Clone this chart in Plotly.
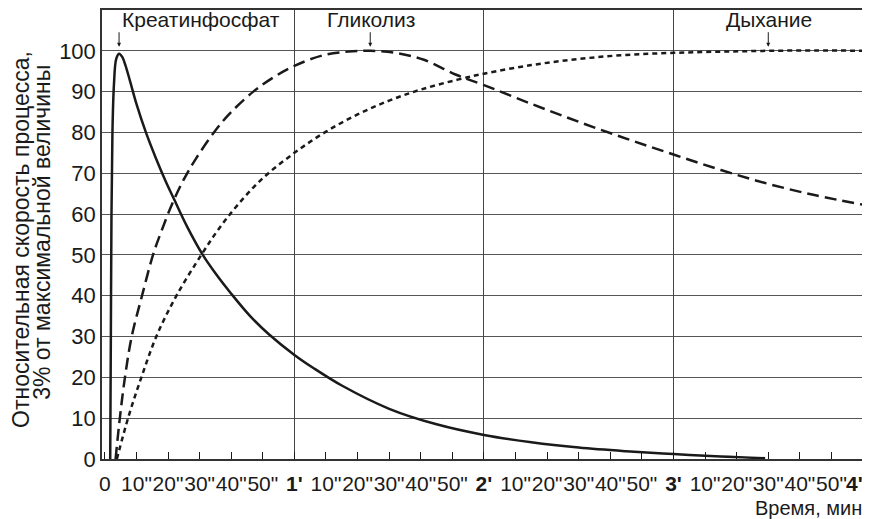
import plotly.graph_objects as go

# time in seconds, value in % of max
t_cp = [1.7, 1.9, 2.1, 2.4, 2.9, 3.6, 4.5, 5.5, 6.5, 8, 10, 13, 16, 19, 22, 26, 31, 35, 40, 46, 52, 60, 66, 75, 90, 105, 120, 135, 150, 165, 180, 195, 209]
y_cp = [0, 30, 60, 80, 92, 98, 99.3, 98.5, 96.5, 92.5, 87, 80, 74, 68.5, 63.5, 57, 50, 45.5, 40.5, 35, 30.5, 25.5, 22.3, 18, 12.3, 8.5, 5.9, 4.1, 2.8, 1.9, 1.2, 0.6, 0.2]

t_gl = [3.4, 4.8, 6.4, 8.5, 11.7, 15.4, 18, 21.3, 25, 28.6, 35, 40, 47, 53, 60, 69, 77, 84, 92, 101, 111, 120, 135, 150, 165, 180, 195, 210, 225, 240]
y_gl = [0, 10.4, 20.2, 30, 39.8, 50.4, 56, 62.5, 68.5, 73.3, 80.5, 85, 90, 93.3, 96.3, 98.9, 99.8, 100, 99.5, 97.8, 94.2, 91.6, 87, 82.6, 78.5, 74.6, 70.8, 67.4, 64.6, 62.3]

t_rs = [3.8, 7.5, 11.7, 16.4, 22.8, 30.7, 36, 42, 50, 60, 70, 80, 90, 100, 112, 120, 135, 150, 165, 180, 195, 210, 225, 240]
y_rs = [0, 10.4, 20.3, 30.2, 40.2, 50.2, 56.3, 62.2, 68.8, 75, 80.2, 84.4, 87.8, 90.5, 93, 94.4, 96.5, 98, 99, 99.5, 99.8, 100, 100.1, 100]

x_ticks = list(range(0, 241, 10))
x_labels = []
for s in x_ticks:
    if s == 0:
        x_labels.append("0")
    elif s == 240:
        # last label sits left of the frame edge, as in the original
        x_labels.append("<b>%d'</b>\u00a0\u00a0\u00a0" % (s // 60))
    elif s % 60 == 0:
        x_labels.append("<b>%d'</b>" % (s // 60))
    else:
        x_labels.append('%d"' % (s % 60))
minute_lines = [60, 120, 180]
y_ticks = list(range(0, 101, 10))

labels = ["Креатинфосфат", "Гликолиз", "Дыхание"]
label_x = [4.8, 84.3, 210.3]
peak_x = [4.5, 84, 210]

FONT = "Liberation Sans, Arial, sans-serif"
INK = "#1a1a1a"

fig = go.Figure()
fig.add_trace(go.Scatter(x=t_cp, y=y_cp, mode="lines", line=dict(color=INK, width=2.5, shape="spline"), xaxis="x"))
fig.add_trace(go.Scatter(x=t_gl, y=y_gl, mode="lines", line=dict(color=INK, width=2.5, dash="12px,6px", shape="spline"), xaxis="x"))
fig.add_trace(go.Scatter(x=t_rs, y=y_rs, mode="lines", line=dict(color=INK, width=2.5, dash="5px,4px", shape="spline"), xaxis="x2"))

for i, txt in enumerate(labels):
    fig.add_annotation(x=label_x[i], y=107.6, text=txt, showarrow=False,
                       xanchor="left" if i == 0 else "center", yanchor="middle",
                       font=dict(size=21, color=INK))
    fig.add_annotation(x=peak_x[i], y=101, text="", showarrow=True, arrowhead=2,
                       arrowsize=0.8, arrowwidth=1, arrowcolor=INK, ax=0, ay=-16)

fig.add_annotation(x=1, y=-0.109, xref="paper", yref="paper", text="Время, мин",
                   showarrow=False, xanchor="right", yanchor="middle", font=dict(size=20, color=INK))
fig.add_annotation(x=-0.1063, y=0.49, xref="paper", yref="paper", text="Относительная скорость процесса,",
                   showarrow=False, textangle=-90, xanchor="center", yanchor="middle", font=dict(size=23, color=INK))
fig.add_annotation(x=-0.078, y=0.505, xref="paper", yref="paper", text="3% от максимальной величины",
                   showarrow=False, textangle=-90, xanchor="center", yanchor="middle", font=dict(size=23, color=INK))

# page body has an 8px margin, so the figure is sized to fill the rest of the window
fig.update_layout(
    width=862, height=511,
    margin=dict(l=94, r=6, t=2, b=60),
    paper_bgcolor="white", plot_bgcolor="white",
    font=dict(family=FONT, size=21, color=INK),
    showlegend=False,
    xaxis=dict(range=[-0.9, 240.3], tickvals=x_ticks, ticktext=x_labels, tickangle=0,
               ticks="inside", ticklen=7, tickcolor=INK, tickwidth=1.2, automargin=False,
               showgrid=False, zeroline=False, showline=True, mirror=True,
               linecolor="#333", linewidth=1.5, ticklabelstandoff=5, ticklabeloverflow="allow"),
    xaxis2=dict(overlaying="x", matches="x", tickvals=minute_lines, showticklabels=False, automargin=False,
                ticks="", showgrid=True, gridcolor="#444", gridwidth=1, zeroline=False, showline=False),
    yaxis=dict(range=[0, 110], tickvals=y_ticks, showgrid=True, gridcolor="#555", gridwidth=1,
               tickfont=dict(size=22), automargin=False,
               zeroline=False, showline=True, mirror=True, linecolor="#333", linewidth=1.5, ticks=""),
)

fig.write_html("out.html")
